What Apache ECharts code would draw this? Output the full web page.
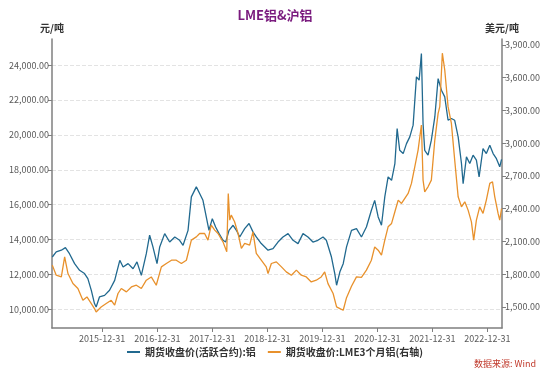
<!DOCTYPE html>
<html>
<head>
<meta charset="utf-8">
<script src="https://cdn.jsdelivr.net/npm/echarts@6/dist/echarts.min.js"></script>
<style>
  html, body { margin: 0; padding: 0; background: #fff; }
  #chart { width: 550px; height: 376px; }
</style>
</head>
<body>
<div id="chart"></div>
<script>
"use strict";

// 期货收盘价(活跃合约):铝  (left axis, 元/吨)
const shDates = [
    '2015-02-03','2015-03-01','2015-04-04','2015-05-01','2015-05-28','2015-07-01','2015-08-03','2015-09-05',
    '2015-09-27','2015-10-20','2015-11-10','2015-11-21','2015-12-13','2016-01-16','2016-02-18','2016-03-23',
    '2016-04-26','2016-05-18','2016-06-20','2016-07-23','2016-08-18','2016-09-16','2016-10-19','2016-11-10',
    '2016-12-02','2016-12-29','2017-01-16','2017-02-18','2017-03-23','2017-04-26','2017-05-28','2017-06-20',
    '2017-07-23','2017-08-14','2017-09-16','2017-10-08','2017-10-30','2017-11-21','2017-12-09','2017-12-31',
    '2018-01-22','2018-02-14','2018-03-12','2018-03-30','2018-04-21','2018-05-18','2018-06-09','2018-07-01',
    '2018-08-03','2018-09-01','2018-09-27','2018-10-19','2018-11-21','2019-01-05','2019-02-07','2019-03-12',
    '2019-04-14','2019-05-18','2019-06-20','2019-07-23','2019-08-25','2019-09-27','2019-10-30','2019-12-02',
    '2020-01-05','2020-01-27','2020-03-01','2020-03-23','2020-04-04','2020-04-26','2020-05-18','2020-06-09',
    '2020-07-12','2020-08-14','2020-09-16','2020-10-19','2020-11-21','2020-12-13','2021-01-05','2021-01-27',
    '2021-02-18','2021-03-12','2021-04-04','2021-04-26','2021-05-11','2021-05-28','2021-06-20','2021-07-12',
    '2021-08-03','2021-08-25','2021-09-16','2021-10-04','2021-10-19','2021-10-30','2021-11-10','2021-12-02',
    '2021-12-24','2022-01-16','2022-02-07','2022-03-01','2022-03-23','2022-04-14','2022-05-06','2022-05-28',
    '2022-06-20','2022-07-12','2022-07-23','2022-08-14','2022-09-05','2022-09-27','2022-10-19','2022-11-06',
    '2022-12-02','2022-12-24','2023-01-16','2023-02-07','2023-03-01','2023-03-23','2023-04-04'
];
const shValues = [
    13000,13290,13390,13540,13190,12620,12240,12050,
    11760,11090,10330,10130,10710,10800,11090,11660,
    12810,12430,12620,12330,12720,11950,13190,14250,
    13580,12620,13580,14340,13860,14150,13960,13670,
    14530,16450,17020,16640,16250,15300,14530,15200,
    14720,14340,13960,13860,14530,14820,14530,14150,
    14630,14920,14440,14150,13770,13390,13480,13860,
    14150,14340,13960,13770,14340,14150,13860,13960,
    14150,13960,13000,12050,11380,12150,12620,13580,
    14530,14630,14150,14720,15680,16250,15300,14820,
    16450,17590,17400,18360,20360,19120,18930,19500,
    19890,20560,23330,23140,24670,20650,19120,18840,
    19700,21030,23230,22560,22180,20840,20940,20840,
    19890,18360,17210,18740,18360,18840,18550,17590,
    19220,18930,19410,18930,18640,18170,18600
];

// 期货收盘价:LME3个月铝 (right axis, 美元/吨)
const lmeDates = [
    '2015-02-03','2015-03-01','2015-04-04','2015-04-26','2015-05-18','2015-06-20','2015-07-23','2015-08-25',
    '2015-09-21','2015-10-20','2015-11-10','2015-11-21','2015-12-24','2016-01-27','2016-02-29','2016-03-23',
    '2016-04-14','2016-05-06','2016-06-09','2016-07-12','2016-08-14','2016-09-16','2016-10-19','2016-11-21',
    '2016-12-24','2017-01-27','2017-03-01','2017-04-04','2017-05-06','2017-06-09','2017-07-12','2017-08-14',
    '2017-09-16','2017-10-08','2017-11-10','2017-12-02','2017-12-24','2018-01-16','2018-02-07','2018-03-12',
    '2018-04-06','2018-04-16','2018-04-26','2018-05-06','2018-05-28','2018-06-20','2018-07-12','2018-08-03',
    '2018-09-05','2018-09-27','2018-10-19','2018-11-21','2018-12-24','2019-01-05','2019-01-27','2019-03-01',
    '2019-04-04','2019-05-06','2019-06-09','2019-07-12','2019-08-14','2019-09-16','2019-10-19','2019-11-21',
    '2019-12-24','2020-01-16','2020-02-07','2020-03-12','2020-04-04','2020-04-26','2020-05-18','2020-06-09',
    '2020-07-12','2020-08-14','2020-09-16','2020-10-19','2020-11-21','2020-12-13','2021-01-05','2021-01-27',
    '2021-02-18','2021-03-12','2021-04-04','2021-04-26','2021-05-18','2021-06-09','2021-07-01','2021-07-23',
    '2021-08-14','2021-09-05','2021-09-27','2021-10-19','2021-10-30','2021-11-10','2021-12-02','2021-12-24',
    '2022-01-16','2022-02-07','2022-02-18','2022-03-07','2022-03-23','2022-04-04','2022-04-14','2022-05-06',
    '2022-05-28','2022-06-20','2022-07-12','2022-08-03','2022-08-25','2022-09-16','2022-10-01','2022-10-19',
    '2022-11-10','2022-12-02','2022-12-24','2023-01-16','2023-02-03','2023-02-18','2023-03-12','2023-03-23',
    '2023-04-04'
];
const lmeValues = [
    1883,1791,1775,1959,1806,1714,1669,1561,
    1592,1531,1485,1454,1500,1531,1561,1516,
    1623,1669,1638,1683,1699,1669,1745,1775,
    1699,1867,1898,1928,1928,1898,1928,2112,
    2142,2173,2173,2112,2249,2204,2173,2096,
    2005,2540,2295,2341,2280,2173,2036,2082,
    2066,2188,1990,1928,1867,1806,1898,1913,
    1867,1821,1791,1837,1791,1775,1729,1745,
    1775,1821,1714,1623,1500,1485,1470,1585,
    1690,1775,1770,1837,1928,2050,2020,1974,
    2112,2234,2265,2372,2479,2448,2494,2540,
    2632,2784,2937,3167,2662,2555,2601,2662,
    3029,3274,3335,3825,3671,3488,3335,3182,
    2846,2509,2417,2463,2387,2280,2112,2295,
    2417,2357,2479,2632,2647,2509,2357,2295,
    2400
];

const leftTicks = [10000, 12000, 14000, 16000, 18000, 20000, 22000, 24000];
const rightTicks = [1500, 1800, 2100, 2400, 2700, 3000, 3300, 3600, 3900];
const xTickDates = ['2015-12-31', '2016-12-31', '2017-12-31', '2018-12-31', '2019-12-31', '2020-12-31', '2021-12-31', '2022-12-31'];

const FONT = '"Noto Sans CJK SC", "Noto Sans", sans-serif';
const BLUE = '#21698f';
const ORANGE = '#e8912c';

const toTime = s => {
    const p = s.split('-');
    return new Date(+p[0], +p[1] - 1, +p[2]).getTime();
};
const pad = n => (n < 10 ? '0' : '') + n;
const fmtDate = v => {
    const d = new Date(Math.round(v));
    return d.getFullYear() + '-' + pad(d.getMonth() + 1) + '-' + pad(d.getDate());
};
const pairs = (d, v) => d.map((s, i) => [toTime(s), v[i]]);
const fmtNum = v => Number(v).toLocaleString('en-US', { minimumFractionDigits: 2, maximumFractionDigits: 2 });
const xTicks = xTickDates.map(toTime);

const chart = echarts.init(document.getElementById('chart'), null, { renderer: 'canvas' });

const option = {
    backgroundColor: '#fff',
    animation: false,
    textStyle: { fontFamily: FONT },
    title: {
        text: 'LME铝&沪铝',
        left: 'center',
        top: 4,
        textStyle: { color: '#7a1b7e', fontSize: 13, fontWeight: 'bold', fontFamily: FONT }
    },
    graphic: [{
        type: 'text',
        right: 14,
        top: 359,
        style: { text: '数据来源: Wind', fill: '#c0392b', font: '9px ' + FONT }
    }],
    legend: {
        bottom: 14,
        left: 'center',
        itemGap: 12,
        itemWidth: 13,
        itemHeight: 2,
        icon: 'rect',
        textStyle: { color: '#333', fontSize: 10, fontWeight: 'bold', fontFamily: FONT },
        data: ['期货收盘价(活跃合约):铝', '期货收盘价:LME3个月铝(右轴)']
    },
    grid: { left: 52, right: 48, top: 39, bottom: 48 },
    xAxis: {
        type: 'value',
        min: toTime('2015-02-01'),
        max: toTime('2023-04-07'),
        axisLine: { lineStyle: { color: '#7f7f7f', width: 1.5 } },
        axisTick: { show: true, length: 4, lineStyle: { color: '#7f7f7f' }, customValues: xTicks },
        axisLabel: {
            customValues: xTicks,
            color: '#595959',
            fontSize: 9,
            margin: 6,
            fontFamily: FONT,
            formatter: fmtDate
        },
        splitLine: { show: false }
    },
    yAxis: [
        {
            type: 'value',
            name: '元/吨',
            nameLocation: 'end',
            nameGap: 6,
            nameTextStyle: { color: '#333', fontSize: 10, fontWeight: 'bold', fontFamily: FONT, align: 'center' },
            min: 8930,
            max: 25500,
            position: 'left',
            axisLine: { show: true, lineStyle: { color: '#7f7f7f', width: 1.5 } },
            axisTick: { show: true, length: 4, lineStyle: { color: '#7f7f7f' }, customValues: leftTicks },
            axisLabel: { customValues: leftTicks, color: '#595959', fontSize: 9, margin: 3, fontFamily: FONT, formatter: fmtNum },
            splitLine: { show: true, lineStyle: { color: '#e3e3e3', type: 'dashed' } }
        },
        {
            type: 'value',
            name: '美元/吨',
            nameLocation: 'end',
            nameGap: 6,
            nameTextStyle: { color: '#333', fontSize: 10, fontWeight: 'bold', fontFamily: FONT, align: 'center' },
            min: 1307,
            max: 3955,
            position: 'right',
            axisLine: { show: true, lineStyle: { color: '#7f7f7f', width: 1.5 } },
            axisTick: { show: true, length: 4, lineStyle: { color: '#7f7f7f' }, customValues: rightTicks },
            axisLabel: { customValues: rightTicks, color: '#595959', fontSize: 9, margin: 3, fontFamily: FONT, formatter: fmtNum },
            splitLine: { show: false }
        }
    ],
    series: [
        {
            name: '期货收盘价(活跃合约):铝',
            type: 'line',
            yAxisIndex: 0,
            showSymbol: false,
            symbol: 'none',
            lineStyle: { color: BLUE, width: 1.3 },
            itemStyle: { color: BLUE },
            data: pairs(shDates, shValues)
        },
        {
            name: '期货收盘价:LME3个月铝(右轴)',
            type: 'line',
            yAxisIndex: 1,
            showSymbol: false,
            symbol: 'none',
            lineStyle: { color: ORANGE, width: 1.3 },
            itemStyle: { color: ORANGE },
            data: pairs(lmeDates, lmeValues)
        }
    ]
};

option && chart.setOption(option);
</script>
</body>
</html>
